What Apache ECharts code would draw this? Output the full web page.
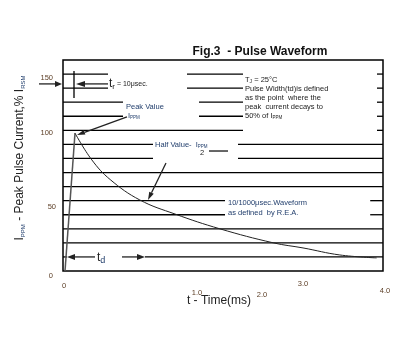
<!DOCTYPE html>
<html>
<head>
<meta charset="utf-8">
<script src="https://cdn.jsdelivr.net/npm/echarts@6/dist/echarts.min.js"></script>
<style>
  html, body { margin: 0; padding: 0; background: #fff; }
  #main { width: 408px; height: 354px; }
</style>
</head>
<body>
<div id="main"></div>
<script>
// waveform (t in ms, % of Ippm)
var riseT = [0.025, 0.15];
var riseV = [0, 98];
var decayT = [0.15, 0.36, 0.59, 0.96, 1.4, 1.96, 2.63, 3.0, 3.46, 3.92];
var decayV = [98, 79, 65, 50.5, 40.5, 30, 20, 16.4, 11.4, 9.3];

var xTickLabels = ['0', '1.0', '2.0', '3.0', '4.0'];
var yTickLabels = ['0', '50', '100', '150'];

// horizontal rules of the figure, broken where the notes sit
var ruleLevels = [140, 130, 120, 110, 100, 90, 80, 70, 60, 50, 40, 30, 20, 10];
var ruleSpans = [
  [[0, 0.5625], [1.55, 2.25], [3.925, 4]],
  [[0, 0.5625], [1.55, 2.25], [3.925, 4]],
  [[0, 0.75], [1.7, 2.25], [3.925, 4]],
  [[0, 0.75], [1.7, 2.25], [3.925, 4]],
  [[0, 2.25], [3.925, 4]],
  [[0, 1.125], [2.1875, 4]],
  [[0, 1.125], [2.1875, 4]],
  [[0, 4]],
  [[0, 4]],
  [[0, 2.025], [3.84, 4]],
  [[0, 2.025], [3.84, 4]],
  [[0, 4]],
  [[0, 4]],
  [[0, 0.05], [1.025, 4]]
];

var chart = echarts.init(document.getElementById('main'));

function pairs(a, b) {
  return a.map(function (v, i) { return [v, b[i]]; });
}

chart.setOption({
  animation: false,
  grid: { left: 63, right: 25, top: 60, bottom: 83, show: true, borderColor: '#000', borderWidth: 1.5 },
  xAxis: {
    type: 'value', min: 0, max: 4, interval: 1,
    axisLine: { show: false }, axisTick: { show: false },
    axisLabel: { show: false }, splitLine: { show: false }
  },
  yAxis: {
    type: 'value', min: 0, max: 150, interval: 10,
    axisLine: { show: false }, axisTick: { show: false },
    axisLabel: { show: false }, splitLine: { show: false }
  },
  series: [
    {
      type: 'line', data: pairs(riseT, riseV), symbol: 'none',
      lineStyle: { color: '#555', width: 1.5 }, z: 5
    },
    {
      type: 'line', data: pairs(decayT, decayV), symbol: 'none', smooth: 0.4,
      lineStyle: { color: '#222', width: 1 }, z: 5
    }
  ]
});

function P(t, v) {
  return chart.convertToPixel({ gridIndex: 0 }, [t, v]);
}

var g = [];
function seg(a, b, w, c) {
  g.push({
    type: 'line', silent: true, z: 3,
    shape: { x1: a[0], y1: a[1], x2: b[0], y2: b[1] },
    style: { stroke: c || '#000', lineWidth: w || 1.3 }
  });
}
function arrow(from, to, len, wid) {
  var a = P(from[0], from[1]), b = P(to[0], to[1]);
  var ang = Math.atan2(b[1] - a[1], b[0] - a[0]);
  var bx = b[0] - len * Math.cos(ang), by = b[1] - len * Math.sin(ang);
  var ox = -Math.sin(ang) * wid, oy = Math.cos(ang) * wid;
  seg(a, [bx, by], 1.3, '#222');
  g.push({
    type: 'polygon', silent: true, z: 4,
    shape: { points: [b, [bx + ox, by + oy], [bx - ox, by - oy]] },
    style: { fill: '#222' }
  });
}
function text(x, y, str, font, color, rich, align) {
  g.push({
    type: 'text', silent: true, x: x, y: y, z: 6,
    style: {
      text: str, font: font, fill: color || '#222',
      textAlign: align || 'left', textVerticalAlign: 'middle', rich: rich
    }
  });
}

ruleLevels.forEach(function (lv, i) {
  ruleSpans[i].forEach(function (s) {
    seg(P(s[0], lv), P(s[1], lv));
  });
});

// t_r marks
seg(P(0.1375, 142.2), P(0.1375, 123), 1.3);
arrow([-0.3, 133], [-0.0125, 133], 7, 3);
arrow([0.5625, 133], [0.1625, 133], 9, 3);
// peak / half value pointers
arrow([0.8, 109.5], [0.175, 96.7], 8, 2.5);
arrow([1.2875, 76.8], [1.0625, 50.5], 8, 2.5);
// t_d marks
arrow([0.4, 10], [0.05, 10], 8, 3);
arrow([0.7375, 10], [1.025, 10], 8, 3);
// bar after the "2"
seg(P(1.825, 85.3), P(2.0625, 85.3), 1.2);

var ff = 'Liberation Sans, Arial, sans-serif';
var navy = '#24406e';

// title
text(260, 52, 'Fig.3  - Pulse Waveform', 'bold 12px ' + ff, '#111', null, 'center');

// notes
text(109, 84, '{t|t}{s|r}{n| = 10μsec.}', '7px ' + ff, '#222', {
  t: { fontSize: 12, fontFamily: ff, fill: '#222' },
  s: { fontSize: 8, fontFamily: ff, fill: '#222', verticalAlign: 'bottom', padding: [6, 0, 0, 0] },
  n: { fontSize: 7, fontFamily: ff, fill: '#222' }
});
text(245, 80, '{n|T}{s|J}{n| = 25°C}', '7.5px ' + ff, '#222', {
  n: { fontSize: 7.5, fontFamily: ff, fill: '#222' },
  s: { fontSize: 5, fontFamily: ff, fill: '#222', padding: [4, 0, 0, 0] }
});
text(245, 89, 'Pulse Width(td)is defined', '7.5px ' + ff, '#222');
text(245, 98, 'as the point  where the', '7.5px ' + ff, '#222');
text(245, 107, 'peak  current decays to', '7.5px ' + ff, '#222');
text(245, 116, '{n|50% of I}{s|PPM}', '7.5px ' + ff, '#222', {
  n: { fontSize: 7.5, fontFamily: ff, fill: '#222' },
  s: { fontSize: 4.5, fontFamily: ff, fill: '#222', padding: [3, 0, 0, 0] }
});
text(126, 107, 'Peak Value', '7.5px ' + ff, navy);
text(128, 116, '{n|I}{s|PPM}', '7.5px ' + ff, navy, {
  n: { fontSize: 7.5, fontFamily: ff, fill: navy },
  s: { fontSize: 4.5, fontFamily: ff, fill: navy, padding: [3, 0, 0, 0] }
});
text(155, 145, '{n|Half Value-  I}{s|PPM}', '7.5px ' + ff, navy, {
  n: { fontSize: 7.5, fontFamily: ff, fill: navy },
  s: { fontSize: 4.5, fontFamily: ff, fill: navy, padding: [3, 0, 0, 0] }
});
text(200, 153, '2', '7.5px ' + ff, '#222');
text(228, 203, '10/1000μsec.Waveform', '7.5px ' + ff, navy);
text(228, 213, 'as defined  by R.E.A.', '7.5px ' + ff, navy);
text(97, 258, '{t|t}{s|d}', '12px ' + ff, '#222', {
  t: { fontSize: 12, fontFamily: ff, fill: '#222' },
  s: { fontSize: 9, fontFamily: ff, fill: navy, padding: [5, 0, 0, 0] }
});

// axis names
text(219, 301, 't - Time(ms)', '12px ' + ff, '#222', null, 'center');
g.push({
  type: 'text', silent: true, x: 20, y: 158, rotation: Math.PI / 2, z: 6,
  style: {
    text: '{n|I}{s|PPM}{n| - Peak Pulse Current,% I}{s|RSM}',
    textAlign: 'center', textVerticalAlign: 'middle',
    rich: {
      n: { fontSize: 12, fontFamily: ff, fill: '#222' },
      s: { fontSize: 6, fontFamily: ff, fill: navy, padding: [6, 0, 0, 0] }
    }
  }
});

// tick labels, scattered as in the figure
var tickCol = '#5e4028';
var xTickPos = [[64, 286], [197, 293], [262, 295], [303, 284], [385, 291]];
xTickLabels.forEach(function (s, i) {
  text(xTickPos[i][0], xTickPos[i][1], s, '7.5px ' + ff, tickCol, null, 'center');
});
var yTickPos = [[53, 276], [56, 207], [53, 133], [53, 78]];
yTickLabels.forEach(function (s, i) {
  text(yTickPos[i][0], yTickPos[i][1], s, '7.5px ' + ff, tickCol, null, 'right');
});

chart.setOption({ graphic: g });
</script>
</body>
</html>
